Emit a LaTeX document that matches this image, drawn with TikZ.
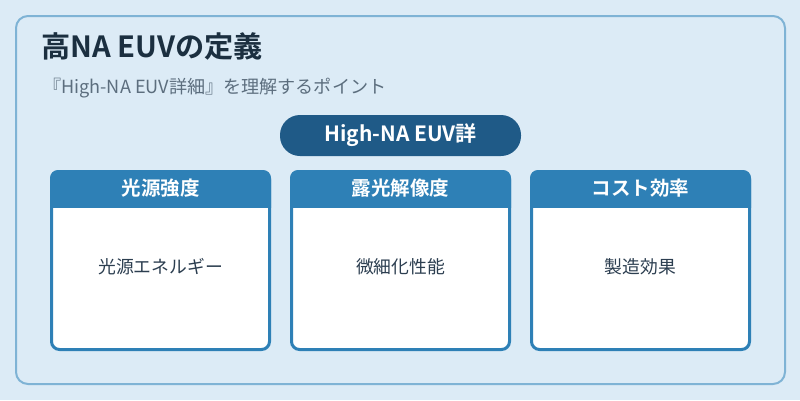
\documentclass[tikz,border=0pt]{standalone}
\usepackage{fontspec}
\setmainfont{Noto Sans CJK JP}[BoldFont={Noto Sans CJK JP Bold}]
\definecolor{bgc}{HTML}{DCEBF6}
\definecolor{panelline}{HTML}{7FB3D5}
\definecolor{titlec}{HTML}{1B2F40}
\definecolor{subc}{HTML}{5C6E7E}
\definecolor{pillc}{HTML}{1F5A87}
\definecolor{headc}{HTML}{2E80B6}
\definecolor{bodyc}{HTML}{2C3E50}
\tikzset{
  card/.style={draw=headc, line width=3pt, fill=white, rounded corners=8pt},
  headtext/.style={text=white, font=\bfseries\fontsize{19.5}{22}\selectfont, anchor=center},
  bodytext/.style={text=bodyc, font=\fontsize{17.8}{20}\selectfont, anchor=center},
}
\begin{document}
\begin{tikzpicture}[x=1pt,y=-1pt]
\useasboundingbox (0,0) rectangle (800,400);
\fill[bgc] (0,0) rectangle (800,400);
\draw[panelline, line width=2pt, rounded corners=12pt] (16,16) rectangle (785,384);
\node[anchor=west, text=titlec, font=\bfseries\fontsize{29.2}{32}\selectfont, inner sep=0pt] (title) at (41,46) {高NA EUVの定義};
\node[anchor=west, text=subc, font=\fontsize{18.1}{20}\selectfont, inner sep=0pt] (sub) at (43,88.5) {『High-NA EUV詳細』を理解するポイント};
\fill[pillc, rounded corners=20pt] (280,115) rectangle (521,156);
\node[text=white, font=\bfseries\fontsize{21}{24}\selectfont] (pill) at (400.5,135.5) {High-NA EUV詳};
\foreach \x/\h/\b/\n in {50/光源強度/光源エネルギー/a, 290/露光解像度/微細化性能/b, 530/コスト効率/製造効果/c}{
  \draw[card] (\x+1.5,171.5) rectangle (\x+219.5,349.5);
  \begin{scope}
    \clip (\x,207) rectangle (\x+221,160);
    \fill[headc, rounded corners=8pt] (\x,170) rectangle (\x+221,230);
  \end{scope}
  \node[headtext] (h\n) at (\x+110.5,188) {\h};
  \node[bodytext] (b\n) at (\x+110.5,267) {\b};
}
\end{tikzpicture}
\end{document}
